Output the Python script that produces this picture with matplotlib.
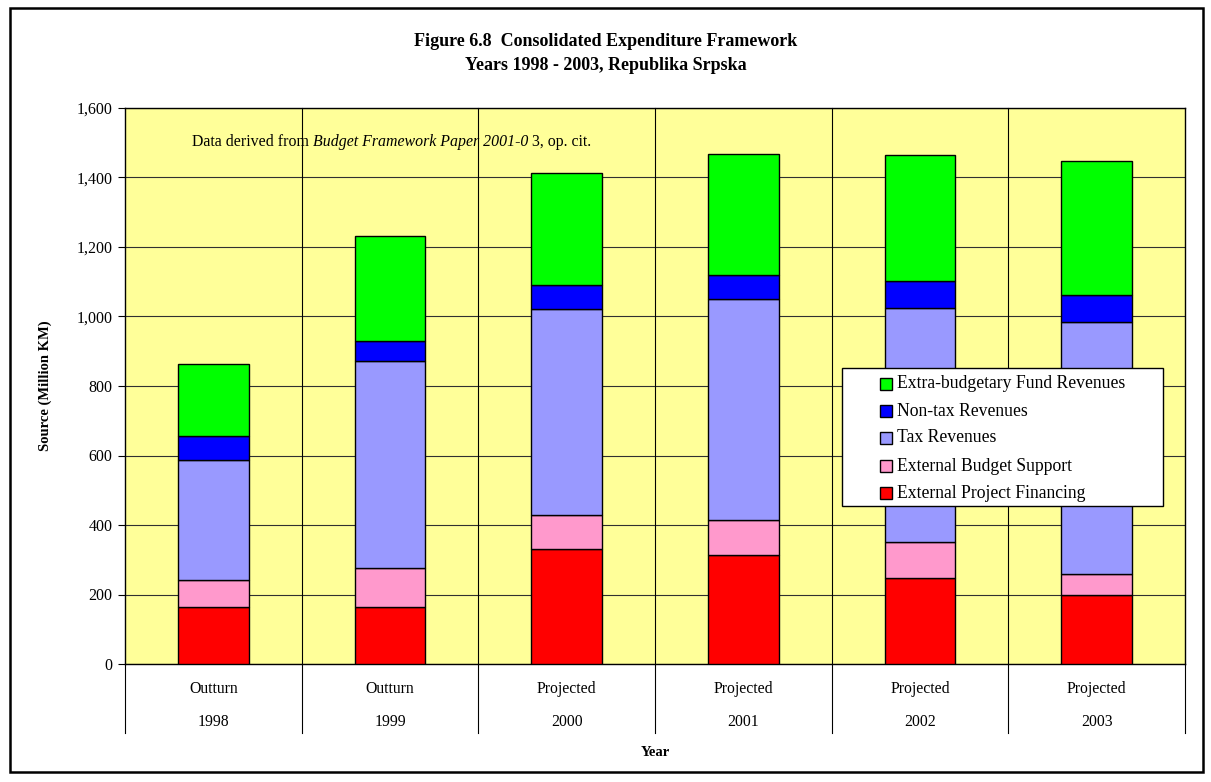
import matplotlib
matplotlib.use("Agg")
import matplotlib.pyplot as plt
import numpy as np
from matplotlib.patches import Rectangle
from matplotlib.transforms import blended_transform_factory
from matplotlib.ticker import FuncFormatter

plt.rcParams["font.family"] = ["Liberation Serif", "DejaVu Serif"]

# Consolidated revenue sources, million KM
years = ["1998", "1999", "2000", "2001", "2002", "2003"]
status = ["Outturn", "Outturn", "Projected", "Projected", "Projected", "Projected"]
project_financing = [165, 164, 330, 314, 248, 200]
budget_support = [76, 111, 98, 99, 102, 60]
tax_revenues = [345, 597, 593, 636, 675, 723]
nontax_revenues = [71, 58, 69, 71, 76, 80]
extra_budgetary = [206, 302, 324, 348, 365, 385]

series_names = ["External Project Financing", "External Budget Support",
                "Tax Revenues", "Non-tax Revenues", "Extra-budgetary Fund Revenues"]
series_values = [project_financing, budget_support, tax_revenues,
                 nontax_revenues, extra_budgetary]
series_colors = ["#FF0000", "#FF99CC", "#9999FF", "#0000FF", "#00FF00"]

W, H = 1211, 782
fig = plt.figure(figsize=(W / 100, H / 100), dpi=100)
fig.patch.set_facecolor("white")


def fx(px):
    return px / W


def fy(py):
    return 1 - py / H


# outer frame
fig.patches.append(Rectangle((fx(10), fy(772)), 1193 / W, 764 / H, transform=fig.transFigure,
                             fill=False, edgecolor="black", linewidth=1.8))

ax = fig.add_axes([fx(125), fy(664), 1060 / W, 556 / H])
ax.set_facecolor("#FFFF99")

x = np.arange(len(years))
bottom = np.zeros(len(years))
for name, vals, col in zip(series_names, series_values, series_colors):
    vals = np.asarray(vals, dtype=float)
    ax.bar(x, vals, width=0.4, bottom=bottom, color=col, edgecolor="black",
           linewidth=1.0, zorder=3, label=name)
    bottom += vals

ax.set_xlim(-0.5, len(years) - 0.5)
ax.set_ylim(0, 1600)
ax.set_yticks(np.arange(0, 1601, 200))
ax.yaxis.set_major_formatter(FuncFormatter(lambda v, p: f"{int(v):,}"))
ax.set_xticks([])
ax.tick_params(axis="y", direction="out", length=5, width=0.8, labelsize=11.5, pad=4)
ax.grid(axis="y", color="#303030", linewidth=0.8, zorder=1)
ax.set_axisbelow(True)
for s in ax.spines.values():
    s.set_linewidth(1.0)
    s.set_color("black")

# category separators extending into the two-level axis area
trans = blended_transform_factory(ax.transData, ax.transAxes)
depth = -69 / 556
for k in np.arange(-0.5, len(years), 1.0):
    top = 1.0 if -0.5 < k < len(years) - 0.5 else 0.0
    ax.plot([k, k], [depth, top], color="black", linewidth=0.8, transform=trans,
            clip_on=False, zorder=2)

for xi, st, yr in zip(x, status, years):
    ax.text(xi, -25 / 556, st, transform=trans, ha="center", va="center", fontsize=11.3)
    ax.text(xi, -58 / 556, yr, transform=trans, ha="center", va="center", fontsize=11.3)

fig.text(fx(45), fy(386), "Source (Million KM)", rotation=90, ha="center", va="center",
         fontsize=10.5, fontweight="bold")
fig.text(fx(655), fy(752), "Year", ha="center", va="center", fontsize=10.5,
         fontweight="bold")

# titles
fig.text(0.5, fy(42), "Figure 6.8  Consolidated Expenditure Framework",
         ha="center", va="center", fontsize=13, fontweight="bold")
fig.text(0.5, fy(66), "Years 1998 - 2003, Republika Srpska",
         ha="center", va="center", fontsize=13, fontweight="bold")

# source note with italic title
fig.canvas.draw()
renderer = fig.canvas.get_renderer()
parts = [("Data derived from ", "normal"), ("Budget Framework Paper 2001-0", "italic"),
         (" 3, op. cit.", "normal")]
xpos = 192
for txt, style in parts:
    t = fig.text(fx(xpos), fy(142), txt, ha="left", va="center", fontsize=11.4,
                 style=style)
    xpos += t.get_window_extent(renderer=renderer).width

# legend box, entries listed top series first
ax.add_patch(Rectangle((fx(842), fy(506)), 321 / W, 138 / H, transform=fig.transFigure,
                       facecolor="white", edgecolor="black", linewidth=1.0,
                       clip_on=False, zorder=10))
rows = [384, 411, 438, 466, 493]
for ry, name, col in zip(rows, series_names[::-1], series_colors[::-1]):
    ax.add_patch(Rectangle((fx(880), fy(ry + 6)), 12 / W, 12 / H, transform=fig.transFigure,
                           facecolor=col, edgecolor="black", linewidth=1.0,
                           clip_on=False, zorder=11))
    ax.text(fx(897), fy(ry), name, transform=fig.transFigure, ha="left", va="center",
            fontsize=12.7, zorder=12, clip_on=False)

fig.savefig("out.png", dpi=100)
